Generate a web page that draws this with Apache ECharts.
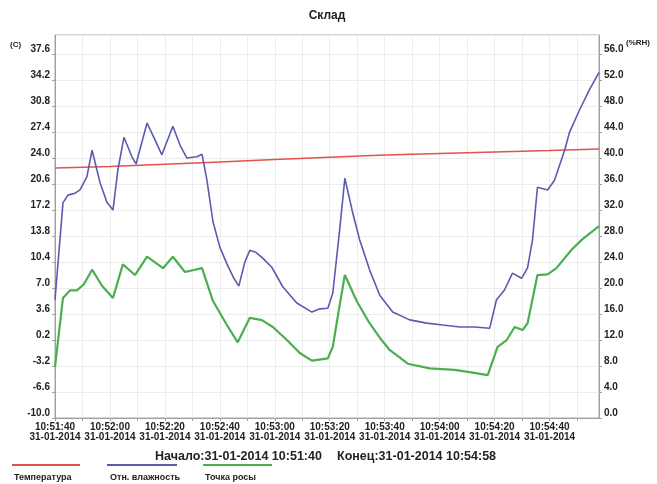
<!DOCTYPE html>
<html>
<head>
<meta charset="utf-8">
<script src="https://cdn.jsdelivr.net/npm/echarts@6/dist/echarts.min.js"></script>
<style>
  html, body { margin: 0; padding: 0; background: #fff; }
  #chart { width: 657px; height: 484px; }
</style>
</head>
<body>
<div id="chart"></div>
<script>
// Time offsets are seconds since 10:51:40 (31-01-2014)
const startTime = '10:51:40';
const endTime = '10:54:58';
const dateStr = '31-01-2014';
const seriesNames = ['Температура', 'Отн. влажность', 'Точка росы'];

// Temperature (°C, left axis)
const tempT = [0, 20, 40, 60, 80, 100, 120, 140, 160, 180, 198];
const tempV = [22.7, 22.9, 23.2, 23.5, 23.8, 24.1, 24.4, 24.6, 24.8, 25.0, 25.2];

// Relative humidity (%RH, right axis)
const rhT = [0, 2.9, 4.7, 7.3, 9.1, 11.6, 13.5, 16.4, 18.9, 21.1, 22.9, 25.1, 28, 29.5, 33.5, 36.4, 38.9, 42.9, 45.5, 48, 51.6, 53.5, 55.3, 57.5, 60, 62.5, 65.1, 66.9, 69.1, 70.9, 73.1, 75.6, 78.9, 82.9, 88, 93.5, 96.4, 99.3, 101.1, 103.6, 105.5, 108.4, 110.9, 114.5, 118.2, 122.9, 129.1, 135.3, 141.1, 147.3, 152.7, 158.2, 160.7, 163.6, 166.5, 169.8, 172, 173.8, 175.6, 179.3, 181.8, 185.5, 187.3, 190.9, 194.5, 198];
const rhV = [18.2, 33.1, 34.3, 34.6, 35.1, 37.1, 41.2, 36.2, 33.2, 32.0, 38.2, 43.2, 40.2, 39.1, 45.4, 42.8, 40.5, 44.9, 42.0, 40.0, 40.2, 40.6, 36.6, 30.2, 26.3, 23.8, 21.5, 20.3, 24.0, 25.8, 25.5, 24.6, 23.2, 20.2, 17.7, 16.3, 16.8, 16.9, 19.2, 28.9, 36.9, 31.5, 27.4, 22.8, 18.9, 16.3, 15.1, 14.6, 14.3, 14.0, 14.0, 13.8, 18.2, 19.7, 22.3, 21.5, 23.1, 27.4, 35.5, 35.1, 36.6, 41.2, 44.0, 47.4, 50.5, 53.2];

// Dew point (°C, left axis)
const dewT = [0, 2.9, 5.5, 8, 10.5, 13.5, 17.1, 21.1, 24.7, 29.1, 33.5, 39.3, 42.9, 47.3, 53.5, 57.5, 62.5, 66.5, 68.7, 70.9, 75.3, 79.3, 84.4, 89.1, 93.5, 99.3, 101.1, 103.3, 105.5, 109.8, 114.5, 118.2, 121.8, 128.4, 136.4, 145.5, 150.9, 157.5, 161.1, 164.4, 167.3, 170.2, 172, 175.6, 179.3, 182.5, 188, 192, 198];
const dewV = [-3.3, 5.7, 6.7, 6.7, 7.5, 9.4, 7.3, 5.7, 10.1, 8.7, 11.1, 9.6, 11.1, 9.1, 9.6, 5.3, 2.2, -0.1, 1.5, 3.1, 2.8, 1.9, 0.2, -1.5, -2.5, -2.2, -0.7, 4.1, 8.7, 5.3, 2.4, 0.5, -1.1, -2.9, -3.5, -3.7, -4.0, -4.4, -0.7, 0.2, 1.9, 1.5, 2.4, 8.7, 8.8, 9.6, 12.0, 13.4, 15.1];

const zip = (a, b) => a.map((x, i) => [x, b[i]]);
const baseSec = 10 * 3600 + 51 * 60 + 40;
const pad = n => (n < 10 ? '0' : '') + n;
function fmtTime(off) {
  const s = baseSec + off;
  return pad(Math.floor(s / 3600)) + ':' + pad(Math.floor(s / 60) % 60) + ':' + pad(s % 60);
}

const FONT = '"Liberation Sans", Arial, sans-serif';
const RED = '#e2534b', BLUE = '#5a5cb0', GREEN = '#4cae4f';

const chart = echarts.init(document.getElementById('chart'), null, { renderer: 'canvas' });
chart.setOption({
  animation: false,
  backgroundColor: '#ffffff',
  textStyle: { fontFamily: FONT },
  grid: { left: 55, right: 58, top: 35, bottom: 66, show: true, borderColor: '#a8a8a8', borderWidth: 1, backgroundColor: '#ffffff' },
  xAxis: {
    type: 'value', min: 0, max: 198, interval: 10,
    axisLine: { onZero: false, lineStyle: { color: '#a0a0a0' } },
    axisTick: { show: true, length: 3, lineStyle: { color: '#a0a0a0' } },
    splitLine: { show: true, lineStyle: { color: '#ececec' } },
    axisLabel: {
      showMaxLabel: false, margin: 4, fontSize: 10, fontWeight: 'bold', color: '#222', lineHeight: 10, fontFamily: FONT,
      formatter: v => (v % 20 === 0 ? fmtTime(v) + '\n' + dateStr : '')
    }
  },
  yAxis: [
    {
      type: 'value', min: -10, max: 40.1, interval: 3.4, position: 'left',
      axisLine: { show: true, onZero: false, lineStyle: { color: '#a0a0a0' } },
      axisTick: { show: true, length: 3, lineStyle: { color: '#a0a0a0' } },
      splitLine: { show: true, lineStyle: { color: '#ececec' } },
      axisLabel: { showMaxLabel: false, margin: 5, fontSize: 10, fontWeight: 'bold', color: '#222', verticalAlign: 'bottom', fontFamily: FONT,
        formatter: v => v.toFixed(1) }
    },
    {
      type: 'value', min: 0, max: 58.94, interval: 4, position: 'right',
      axisLine: { show: true, onZero: false, lineStyle: { color: '#a0a0a0' } },
      axisTick: { show: true, length: 3, lineStyle: { color: '#a0a0a0' } },
      splitLine: { show: false },
      axisLabel: { showMaxLabel: false, margin: 5, fontSize: 10, fontWeight: 'bold', color: '#222', verticalAlign: 'bottom', fontFamily: FONT,
        formatter: v => v.toFixed(1) }
    }
  ],
  series: [
    { name: seriesNames[0], type: 'line', yAxisIndex: 0, data: zip(tempT, tempV), showSymbol: false, lineStyle: { color: RED, width: 1.5 }, itemStyle: { color: RED } },
    { name: seriesNames[1], type: 'line', yAxisIndex: 1, data: zip(rhT, rhV), showSymbol: false, lineStyle: { color: BLUE, width: 1.6 }, itemStyle: { color: BLUE } },
    { name: seriesNames[2], type: 'line', yAxisIndex: 0, data: zip(dewT, dewV), showSymbol: false, lineStyle: { color: GREEN, width: 2.2 }, itemStyle: { color: GREEN } }
  ],
  graphic: [
    { type: 'text', style: { text: 'Склад', x: 327, y: 16, textAlign: 'center', textVerticalAlign: 'middle', font: 'bold 12px ' + FONT, fill: '#222' } },
    { type: 'text', style: { text: '(C)', x: 10, y: 45, textAlign: 'left', textVerticalAlign: 'middle', font: 'bold 8px ' + FONT, fill: '#222' } },
    { type: 'text', style: { text: '(%RH)', x: 626, y: 43, textAlign: 'left', textVerticalAlign: 'middle', font: 'bold 8px ' + FONT, fill: '#222' } },
    { type: 'text', style: { text: 'Начало:' + dateStr + ' ' + startTime, x: 155, y: 457, textAlign: 'left', textVerticalAlign: 'middle', font: 'bold 12.5px ' + FONT, fill: '#222' } },
    { type: 'text', style: { text: 'Конец:' + dateStr + ' ' + endTime, x: 337, y: 457, textAlign: 'left', textVerticalAlign: 'middle', font: 'bold 12.5px ' + FONT, fill: '#222' } },
    { type: 'line', shape: { x1: 12, y1: 465, x2: 80, y2: 465 }, style: { stroke: RED, lineWidth: 2 } },
    { type: 'line', shape: { x1: 107, y1: 465, x2: 177, y2: 465 }, style: { stroke: BLUE, lineWidth: 2 } },
    { type: 'line', shape: { x1: 203, y1: 465, x2: 272, y2: 465 }, style: { stroke: GREEN, lineWidth: 2 } },
    { type: 'text', style: { text: seriesNames[0], x: 14, y: 478, textAlign: 'left', textVerticalAlign: 'middle', font: 'bold 9px ' + FONT, fill: '#222' } },
    { type: 'text', style: { text: seriesNames[1], x: 110, y: 478, textAlign: 'left', textVerticalAlign: 'middle', font: 'bold 9px ' + FONT, fill: '#222' } },
    { type: 'text', style: { text: seriesNames[2], x: 205, y: 478, textAlign: 'left', textVerticalAlign: 'middle', font: 'bold 9px ' + FONT, fill: '#222' } }
  ]
});
</script>
</body>
</html>
